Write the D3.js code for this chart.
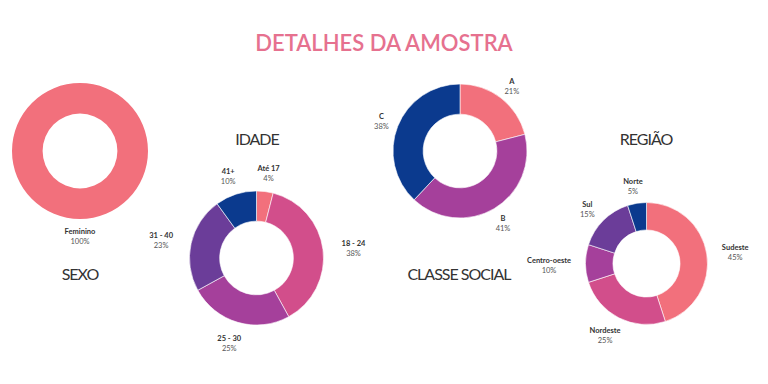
<!DOCTYPE html>
<html><head><meta charset="utf-8">
<script src="https://cdn.jsdelivr.net/npm/d3@7"></script>
<style>body{margin:0;background:#fff;}svg{display:block;font-family:Lato,sans-serif;}</style>
</head><body><svg width="768" height="384"></svg>
<script>
const sexoLabels = ["Feminino"];
const sexoValues = [100];
const idadeLabels = ["Até 17", "18 - 24", "25 - 30", "31 - 40", "41+"];
const idadeValues = [4, 38, 25, 23, 10];
const classeLabels = ["A", "B", "C"];
const classeValues = [21, 41, 38];
const regiaoLabels = ["Sudeste", "Nordeste", "Centro-oeste", "Sul", "Norte"];
const regiaoValues = [45, 25, 10, 15, 5];

const C = {salmon:"#f2707c", pink:"#d24e8b", magenta:"#a5409b", purple:"#6b3d99", navy:"#0b3a8e"};
const svg = d3.select("svg");

svg.append("text").attr("x",384).attr("y",51).attr("text-anchor","middle")
  .attr("font-size",22).attr("font-weight",600).attr("fill","#e6718f").text("DETALHES DA AMOSTRA");

function donut(cfg){
  const g = svg.append("g").attr("transform",`translate(${cfg.cx},${cfg.cy})`);
  const data = cfg.labels.map((l,i)=>({label:l,value:cfg.values[i],color:cfg.colors[i]}));
  const pie = d3.pie().value(d=>d.value).sort(null);
  const arcs = pie(data);
  const arc = d3.arc().innerRadius(cfg.r*0.55).outerRadius(cfg.r);
  g.selectAll("path").data(arcs).join("path").attr("d",arc).attr("fill",d=>d.data.color)
    .attr("stroke", arcs.length>1?"#fff":"none").attr("stroke-width",0.6);
  arcs.forEach(a=>{
    const m = (a.startAngle+a.endAngle)/2;
    const R = cfg.r + cfg.off;
    const hw = a.data.label.length*2.2;
    const x = Math.sin(m)*R + Math.sin(m)*hw*0.7;
    const y = -Math.cos(m)*R;
    g.append("text").attr("x",x).attr("y",y-1).attr("text-anchor","middle")
      .attr("font-size",7.5).attr("font-weight",700).attr("fill","#333").text(a.data.label);
    g.append("text").attr("x",x).attr("y",y+9).attr("text-anchor","middle")
      .attr("font-size",7.5).attr("fill","#555").text(a.data.value+"%");
  });
  svg.append("text").attr("x",cfg.tx).attr("y",cfg.ty).attr("text-anchor","middle")
    .attr("font-size",16).attr("letter-spacing",-1).attr("fill","#333").text(cfg.title);
}

donut({cx:80,cy:151,r:68,off:16,labels:sexoLabels,values:sexoValues,colors:[C.salmon],title:"SEXO",tx:80,ty:280});
donut({cx:256.5,cy:258,r:67,off:20,labels:idadeLabels,values:idadeValues,colors:[C.salmon,C.pink,C.magenta,C.purple,C.navy],title:"IDADE",tx:257,ty:145});
donut({cx:460,cy:151,r:67,off:16,labels:classeLabels,values:classeValues,colors:[C.salmon,C.magenta,C.navy],title:"CLASSE SOCIAL",tx:459,ty:280});
donut({cx:646.5,cy:263.5,r:61,off:18,labels:regiaoLabels,values:regiaoValues,colors:[C.salmon,C.pink,C.magenta,C.purple,C.navy],title:"REGIÃO",tx:646,ty:145});
</script></body></html>
